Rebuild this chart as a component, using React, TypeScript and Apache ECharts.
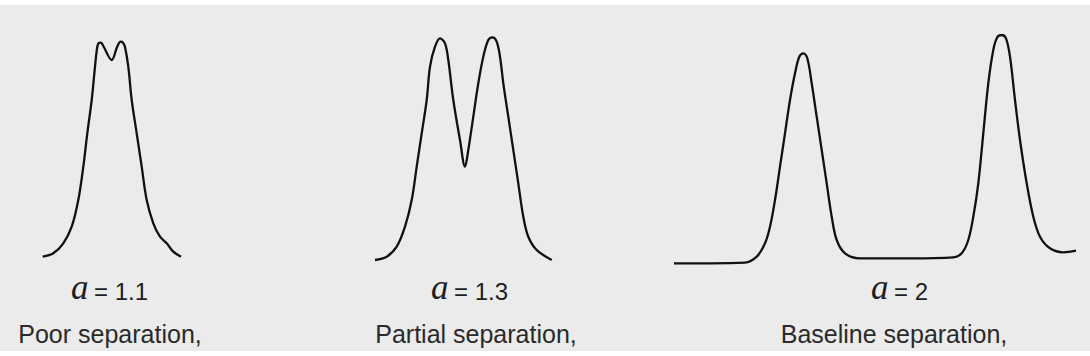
import React, { useEffect, useRef } from "react";
import * as echarts from "echarts";

// time (arbitrary units), detector signal (arbitrary units)
const poorTime = [4.27, 5.33, 6.33, 7.17, 7.83, 8.33, 8.73, 9.17, 9.5, 9.67, 9.83, 10.1, 10.33, 11.17, 11.67, 11.9, 12.07, 12.3, 12.5, 12.83, 13.17, 13.67, 14.17, 14.67, 15.33, 16.0, 16.67, 17.33, 18.1];
const poorSignal = [8.3, 11.7, 21.7, 38.3, 65, 98.3, 131.7, 165, 198.3, 214, 221.5, 222.3, 219, 205, 217, 222, 223.3, 222.3, 218, 198.3, 165, 131.7, 98.3, 65, 41.7, 28.3, 21.7, 13.3, 8.3];

const partialTime = [37.5, 38.67, 39.67, 40.5, 41.17, 41.67, 42.17, 42.67, 43.0, 43.5, 44.0, 44.5, 44.83, 45.33, 46.0, 46.5, 46.83, 47.33, 47.83, 48.33, 48.83, 49.27, 49.67, 50.0, 50.33, 50.83, 51.33, 51.83, 52.33, 52.83, 53.67, 55.17];
const partialSignal = [5, 8.3, 18.3, 38.3, 65, 98.3, 131.7, 165, 198.3, 218.3, 226.7, 221.7, 205, 165, 125, 98.3, 115, 148.3, 181.7, 208.3, 225, 227.7, 223.3, 208.3, 181.7, 148.3, 115, 81.7, 48.3, 28.3, 15, 5];

const baselineTime = [67.4, 71.0, 74.5, 75.67, 76.5, 77.0, 77.5, 78.0, 78.5, 79.0, 79.5, 79.93, 80.33, 80.73, 81.17, 81.67, 82.17, 82.67, 83.17, 83.67, 84.5, 86.0, 91.0, 95.33, 96.17, 96.83, 97.33, 97.83, 98.33, 98.83, 99.33, 99.73, 100.17, 100.6, 101.0, 101.5, 102.0, 102.67, 103.33, 104.0, 105.0, 106.33, 107.6];
const baselineSignal = [1.7, 1.7, 2.3, 8.3, 21.7, 38.3, 65, 98.3, 131.7, 165, 191.7, 208.3, 211.7, 206.7, 181.7, 148.3, 115, 81.7, 48.3, 25, 11.7, 6.7, 6.7, 7.7, 11.7, 25, 48.3, 81.7, 131.7, 181.7, 215, 227.7, 230, 226.7, 208.3, 165, 125, 81.7, 48.3, 28.3, 16.7, 12.7, 14.3];

const alphaValues = ["1.1", "1.3", "2"];
const captions = ["Poor separation,", "Partial separation,", "Baseline separation,"];

const pairs = (t: number[], s: number[]) => t.map((v, i) => [v, s[i]]);

export default function App() {
  const ref = useRef<HTMLDivElement>(null);
  useEffect(() => {
    document.body.style.margin = "0";
    const chart = echarts.init(ref.current!, null, { renderer: "svg" });
    const lineStyle = { color: "#111", width: 2.3 };
    const mk = (t: number[], s: number[]) => ({
      type: "line",
      data: pairs(t, s),
      smooth: 0.35,
      showSymbol: false,
      symbol: "none",
      lineStyle,
      silent: true,
    });
    const labelX = [71, 431, 871];
    const captionX = [110, 476, 894];
    const alphaText: any[] = [];
    alphaValues.forEach((v, i) => {
      alphaText.push({
        type: "text",
        x: labelX[i],
        y: 287,
        style: {
          text: "a",
          fontFamily: "Liberation Serif",
          fontStyle: "italic",
          fontSize: 35,
          fill: "#1e1e1e",
          align: "left",
          verticalAlign: "middle",
        },
      });
      alphaText.push({
        type: "text",
        x: labelX[i] + 23,
        y: 291,
        style: {
          text: "= " + v,
          fontFamily: "Liberation Sans",
          fontSize: 24,
          fill: "#1e1e1e",
          align: "left",
          verticalAlign: "middle",
        },
      });
    });
    const capText = captions.map((c, i) => ({
      type: "text",
      x: captionX[i],
      y: 334,
      style: {
        text: c,
        fontFamily: "Liberation Sans",
        fontSize: 25,
        fill: "#2a2a2a",
        align: "center",
        verticalAlign: "middle",
      },
    }));
    chart.setOption({
      animation: false,
      backgroundColor: "#ffffff",
      graphic: [
        { type: "rect", z: -10, shape: { x: 0, y: 5, width: 1090, height: 346 }, style: { fill: "#ebebeb" } },
        ...alphaText,
        ...capText,
      ],
      grid: { left: 0, right: 0, top: 35, bottom: 91 },
      xAxis: { type: "value", min: 0, max: 109, show: false },
      yAxis: { type: "value", min: 0, max: 230, show: false },
      series: [mk(poorTime, poorSignal), mk(partialTime, partialSignal), mk(baselineTime, baselineSignal)],
    });
    return () => chart.dispose();
  }, []);
  return <div ref={ref} style={{ width: 1090, height: 356 }} />;
}
